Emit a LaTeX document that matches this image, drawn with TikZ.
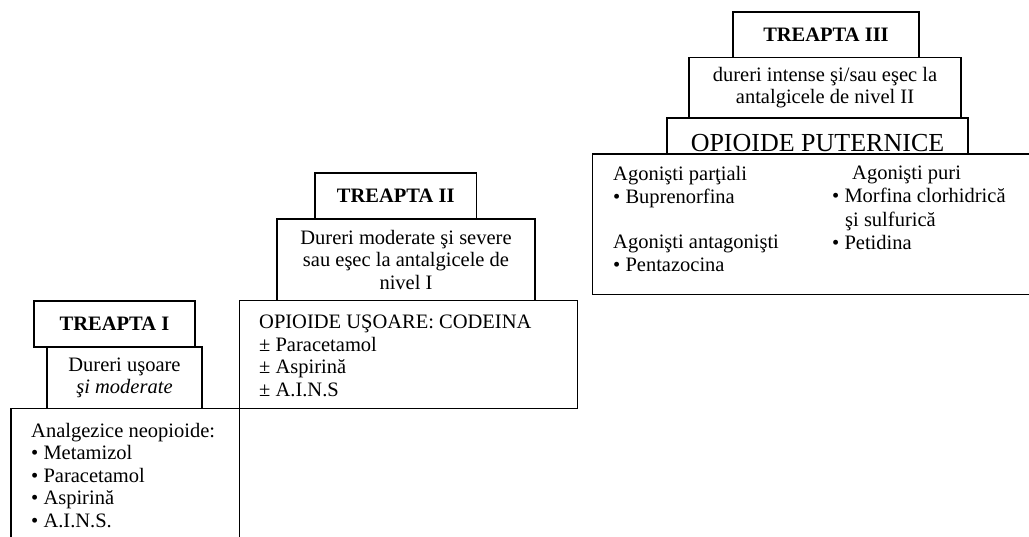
\documentclass[tikz,border=0pt]{standalone}
\usepackage{fontspec}
\setmainfont{Liberation Serif}
\begin{document}
\begin{tikzpicture}[x=1pt,y=-1pt,
  box/.style={draw,line width=1.3pt,inner sep=0pt},
  txt/.style={font=\fontsize{20.5}{22.5}\selectfont},
  head/.style={box,font=\fontsize{20.5}{22.5}\selectfont\bfseries},
  list/.style={txt,align=left,inner sep=0pt,anchor=north west}]
\useasboundingbox (0,0) rectangle (1029,537);
\clip (0,0) rectangle (1029,537);

% treapta I
\node[head,minimum width=161pt,minimum height=46pt] (t1) at (114.5,324) {TREAPTA I};
\node[box,txt,align=center,minimum width=155pt,minimum height=61.5pt] (d1) at (124.5,377.75) {Dureri uşoare\\\textit{şi moderate}};
\node[box,minimum width=228.5pt,minimum height=151.5pt] (m1) at (125.25,484.25) {};
\node[list] (m1l) at (31,423) {Analgezice neopioide:\\\textbullet{} Metamizol\\\textbullet{} Paracetamol\\\textbullet{} Aspirină\\\textbullet{} A.I.N.S.};

% treapta II
\node[head,minimum width=161.5pt,minimum height=46pt] (t2) at (395.75,196) {TREAPTA II};
\node[box,txt,align=center,minimum width=258pt,minimum height=81.5pt] (d2) at (406,259.75) {Dureri moderate şi severe\\sau eşec la antalgicele de\\nivel I};
\node[box,minimum width=338pt,minimum height=108pt] (m2) at (408.5,354.5) {};
\node[list] (m2l) at (259,315) {OPIOIDE UŞOARE: CODEINA\\± Paracetamol\\± Aspirină\\± A.I.N.S};

% treapta III
\node[head,minimum width=186pt,minimum height=45.5pt] (t3) at (826,34.75) {TREAPTA III};
\node[box,txt,align=center,minimum width=272pt,minimum height=60.5pt] (d3) at (825,87.75) {dureri intense şi/sau eşec la\\antalgicele de nivel II};
\node[box,font=\fontsize{26}{28}\selectfont,text height=31pt,text depth=0pt,minimum width=301pt,minimum height=36pt] (p3) at (817.5,136) {OPIOIDE PUTERNICE};
\node[box,minimum width=460pt,minimum height=140.5pt] (m3) at (822.5,224.25) {};
\node[list,font=\fontsize{20.5}{23.2}\selectfont] (m3a) at (613,166) {Agonişti parţiali\\\textbullet{} Buprenorfina\\[21.5pt]Agonişti antagonişti\\\textbullet{} Pentazocina};
\node[list,font=\fontsize{20.5}{23.2}\selectfont] (m3b) at (832,166) {\hspace*{20pt}Agonişti puri\\\textbullet{} Morfina clorhidrică\\\hspace*{13pt}şi sulfurică\\\textbullet{} Petidina};
\end{tikzpicture}
\end{document}
